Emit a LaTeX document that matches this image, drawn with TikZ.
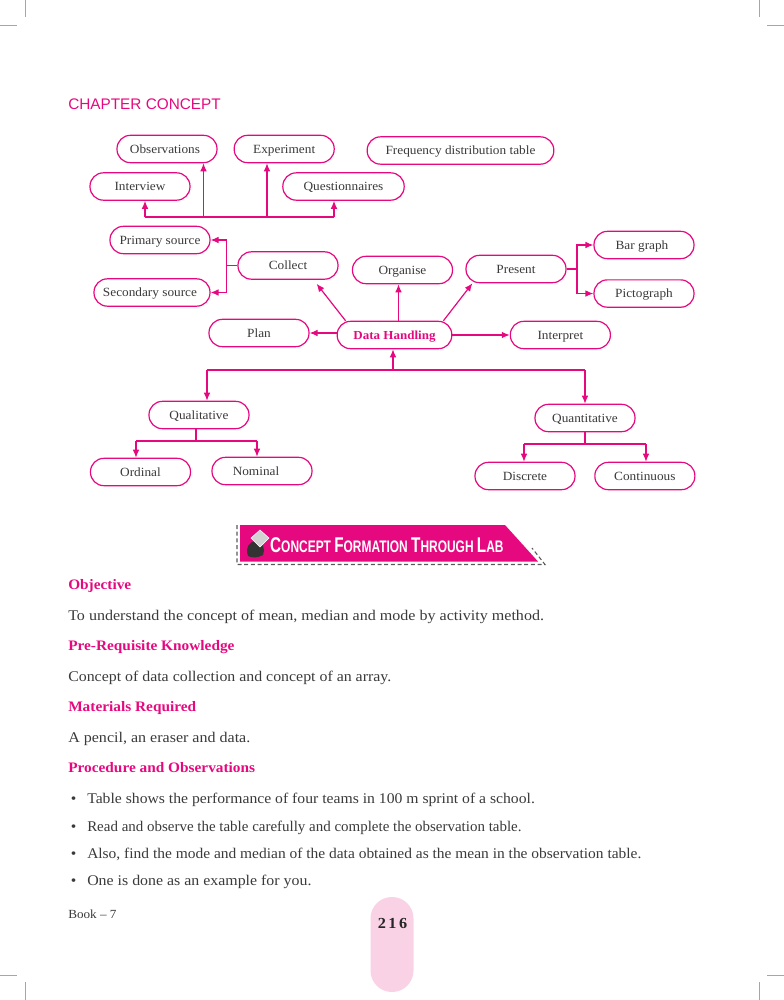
\documentclass[tikz,border=0pt]{standalone}
\usepackage{fontspec}
\setmainfont[FakeStretch=1.06]{Liberation Serif}
\setsansfont{Liberation Sans}
\usepackage{tikz}
\usetikzlibrary{arrows.meta, positioning, calc}
\usepackage{xcolor}
\definecolor{pagePink}{HTML}{E6087F}
\definecolor{pillPink}{HTML}{F9D3E5}
\definecolor{inkGray}{HTML}{3A3A3A}
\tikzset{
    >={Latex[length=6pt,width=5pt]},
    % Boxes
    pill/.style={rectangle, draw=pagePink, line width=0.9pt, fill=white, rounded corners=10pt,
                 minimum width=75pt, minimum height=20.5pt, inner sep=0pt, align=center,
                 text height=8pt, text depth=2pt,
                 text=inkGray, font=\fontsize{9.4}{11}\selectfont},
    % Flow
    wire/.style={draw=pagePink, line width=0.9pt},
    flow/.style={->, draw=pagePink, line width=0.9pt},
    % Page text
    head/.style={anchor=base west, inner sep=0pt, text=pagePink, font=\fontsize{10.85}{13}\selectfont\bfseries},
    body/.style={anchor=base west, inner sep=0pt, text=inkGray, transform shape, font=\fontsize{11.1}{13}\selectfont},
    crop/.style={draw=gray!70, line width=0.5pt}
}
\begin{document}
\begin{tikzpicture}[x=0.75pt, y=-0.75pt]
\useasboundingbox (0,0) rectangle (784,1000);

% Crop marks
\foreach \px/\ex/\fx in {25/0/17, 759/784/767} {
  \draw[crop] (\ex,25) -- (\fx,25);
  \draw[crop] (\ex,975) -- (\fx,975);
  \draw[crop] (\px,0) -- (\px,17);
  \draw[crop] (\px,982) -- (\px,1000);
}

\node[anchor=base west, inner sep=0pt, text=pagePink, font=\sffamily\fontsize{11.5}{13}\selectfont] (chapter) at (68,109) {CHAPTER CONCEPT};

% Top row
\node[pill] (observations) at (167,149) {Observations\hspace{3pt}};
\node[pill, right=12pt of observations] (experiment) {Experiment};
\node[pill, minimum width=140pt] (frequency) at (460.5,150.5) {Frequency distribution table};
\node[pill] (interview) at (140,186.5) {Interview};
\node[pill, minimum width=91pt] (questionnaires) at (343.5,186.5) {Questionnaires};

% Sources and main row
\node[pill] (primary) at (160,240) {Primary source};
\node[pill, minimum width=87pt] (secondary) at (152,292.5) {Secondary source\hspace{3pt}};
\node[pill] (collect) at (288,265.5) {Collect};
\node[pill] (organise) at (402.5,270) {Organise};
\node[pill] (present) at (516,269) {Present};
\node[pill] (bargraph) at (644,245) {Bar graph\hspace{3pt}};
\node[pill, below=15pt of bargraph] (pictograph) {Pictograph};
\node[pill] (plan) at (259,333) {Plan};
\node[pill, minimum width=86pt, text=pagePink, font=\fontsize{9.2}{11}\selectfont\bfseries] (handling) at (394.5,335) {Data Handling};
\node[pill, right=43pt of handling] (interpret) {Interpret};

% Data types
\node[pill] (qualitative) at (199,415) {Qualitative};
\node[pill] (quantitative) at (585,418) {Quantitative};
\node[pill] (ordinal) at (140.5,472) {Ordinal};
\node[pill] (nominal) at (262,471) {Nominal\hspace{9pt}};
\node[pill] (discrete) at (525,476) {Discrete};
\node[pill, right=14pt of discrete] (continuous) {Continuous};

% Bus above the sources
\coordinate (busI) at (145,217);
\coordinate (busO) at (203.5,217);
\coordinate (busE) at (267,217);
\coordinate (busQ) at (334,217);
\draw[wire] (busI) -- (busQ);
\draw[flow] (busI) -- (busI |- interview.south);
\draw[flow] (busO) -- (busO |- observations.south);
\draw[flow] (busE) -- (busE |- experiment.south);
\draw[flow] (busQ) -- (busQ |- questionnaires.south);

% Collect
\coordinate (forkC) at (226.5,265.5);
\draw[wire] (collect) -- (forkC);
\draw[flow] (forkC) |- (primary);
\draw[flow] (forkC) |- (secondary);

% Present
\coordinate (forkP) at (577,269);
\draw[wire] (present) -- (forkP);
\draw[flow] (forkP) |- (bargraph.west);
\draw[flow] (forkP) |- (pictograph.west);

% Out of Data Handling
\coordinate (upO) at (398.5,321);
\draw[flow] ([xshift=6.75pt]handling.north west) -- ([xshift=-16.5pt,yshift=-3pt]collect.south east);
\draw[flow] (upO) -- (upO |- organise.south);
\draw[flow] ([xshift=-6.75pt]handling.north east) -- ([xshift=5.25pt]present.south west);
\draw[flow] (handling.west |- plan) -- (plan);
\draw[flow] (handling.east) -- (interpret);

% Split under Data Handling
\coordinate (busD) at (393,370);
\coordinate (busL) at (207,370);
\coordinate (busR) at (585,370);
\draw[wire] (busL) -- (busR);
\draw[flow] (busD) -- (busD |- handling.south);
\draw[flow] (busL) -- (busL |- qualitative.north);
\draw[flow] (busR) -- (quantitative);

% Qualitative
\coordinate (stemL) at (196,441);
\coordinate (stemLa) at (136,441);
\coordinate (stemLb) at (257,441);
\draw[wire] (stemL |- qualitative.south) -- (stemL);
\draw[wire] (stemLa) -- (stemLb);
\draw[flow] (stemLa) -- (stemLa |- ordinal.north);
\draw[flow] (stemLb) -- (stemLb |- nominal.north);

% Quantitative
\coordinate (stemR) at (585,444);
\coordinate (stemRa) at (524,444);
\coordinate (stemRb) at (646,444);
\draw[wire] (quantitative) -- (stemR);
\draw[wire] (stemRa) -- (stemRb);
\draw[flow] (stemRa) -- (stemRa |- discrete.north);
\draw[flow] (stemRb) -- (stemRb |- continuous.north);

% Banner
\draw[gray!70!black, line width=0.8pt, densely dashed] (237,525) -- (237,564.5) -- (545,564.5) -- (532,548);
\fill[pagePink] (240,525) -- (505,525) -- (538,561.5) -- (240,561.5) -- cycle;
\fill[black!80] (248,556) .. controls (245,547) and (250,541) .. (256,541) .. controls (262,541) and (266,549) .. (263,555) .. controls (258,558) and (252,558) .. (248,556) -- cycle;
\fill[gray!35, draw=white, line width=0.4pt] (260,530) -- (269,538) -- (260,547) -- (251,538) -- cycle;
\node[anchor=base west, inner sep=0pt, text=white, xscale=0.717, transform shape, font=\sffamily\bfseries] (banner) at (270,552)
  {\fontsize{16}{18}\selectfont C\fontsize{12.5}{18}\selectfont ONCEPT \fontsize{16}{18}\selectfont F\fontsize{12.5}{18}\selectfont ORMATION \fontsize{16}{18}\selectfont T\fontsize{12.5}{18}\selectfont HROUGH \fontsize{16}{18}\selectfont L\fontsize{12.5}{18}\selectfont AB};

% Page text
\node[head] (objective) at (68,589) {Objective};
\node[body, xscale=1.024] (aim) at (68,620) {To understand the concept of mean, median and mode by activity method.};
\node[head] (prereq) at (68,650) {Pre-Requisite Knowledge};
\node[body, xscale=1.012] (prereqtext) at (68,681) {Concept of data collection and concept of an array.};
\node[head] (materials) at (68,711) {Materials Required};
\node[body, xscale=1.022] (materialstext) at (68,742) {A pencil, an eraser and data.};
\node[head] (procedure) at (68,772) {Procedure and Observations};
\foreach \ny/\nm/\xs/\txt in {803/one/1/Table shows the performance of four teams in 100 m sprint of a school.,
    831/two/0.954/Read and observe the table carefully and complete the observation table.,
    858/three/0.986/{Also, find the mode and median of the data obtained as the mean in the observation table.},
    885/four/1.013/One is done as an example for you.} {
  \node[body] (bullet\nm) at (70.5,\ny) {•};
  \node[body, xscale=\xs] (item\nm) at (87,\ny) {\txt};
}

% Footer
\node[anchor=base west, inner sep=0pt, text=inkGray, font=\fontsize{9.3}{11}\selectfont] (book) at (68,918) {Book – 7};
\fill[pillPink, rounded corners=16pt] (370.5,897) rectangle (413.5,992);
\node[inner sep=0pt, text=black!85, font=\fontsize{11.5}{13}\selectfont\bfseries] (pageno) at (392.5,923) {2\,1\,6};
\end{tikzpicture}
\end{document}
